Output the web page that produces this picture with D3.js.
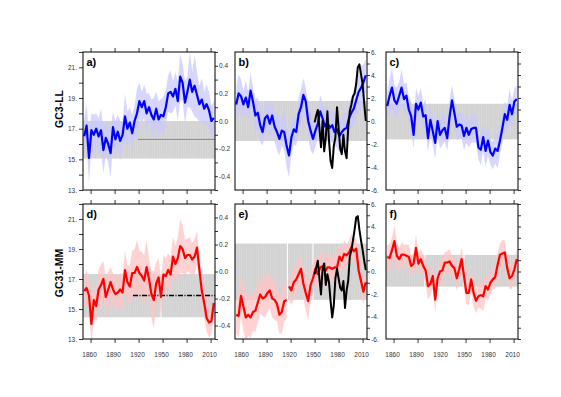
<!DOCTYPE html>
<html>
<head>
<meta charset="utf-8">
<script src="https://cdn.jsdelivr.net/npm/d3@7"></script>
<style>
body { margin: 0; background: #fff; }
text { font-family: "Liberation Sans", Arial, sans-serif; }
</style>
</head>
<body>
<div id="chart"></div>
<script>

// model series are read every 3 years, observations every 2 years
var years = d3.range(1852, 2015, 3)
var obsYears = d3.range(1950, 2015, 2)
var xTickYears = [1860, 1890, 1920, 1950, 1980, 2010]

var panelLabels = ["a)", "b)", "c)", "d)", "e)", "f)"]
var rowTitles = ["GC3-LL", "GC31-MM"]

var meanA = [16.5,17.2,15.1,16.9,16.6,17.0,16.5,16.9,15.6,16.4,
  16.0,15.4,17.1,16.3,16.8,16.2,16.6,17.8,17.0,17.4,
  16.7,17.5,18.0,18.8,18.4,18.8,18.0,18.4,17.9,17.6,
  18.3,17.6,17.9,17.8,18.4,19.3,19.4,19.1,19.6,18.8,
  20.4,20.0,18.7,19.4,20.2,19.4,19.8,19.2,18.6,18.9,
  18.3,18.6,18.2,17.5,17.7]
var meanB = [0.12,0.20,0.18,0.12,0.17,0.10,0.22,0.14,0.04,0.06,
  -0.03,-0.08,0.02,0.04,-0.02,0.04,-0.04,-0.08,-0.13,-0.07,
  -0.08,-0.18,-0.25,-0.12,-0.06,-0.08,0.05,0.10,0.19,0.14,
  0.00,-0.07,-0.13,-0.07,-0.02,0.07,0.02,-0.04,-0.01,-0.05,
  -0.03,-0.08,-0.06,-0.11,-0.08,-0.06,-0.05,0.02,0.06,0.09,
  0.15,0.21,0.24,0.28,0.33]
var meanC = [1.3,2.2,2.9,1.8,1.5,2.2,2.9,1.9,2.2,1.0,
  0.4,-1.2,1.5,1.0,1.6,0.4,0.5,-1.5,0.1,-0.9,
  -1.9,0.0,-1.2,-0.8,-0.6,-1.5,0.4,1.8,0.7,-0.5,
  -0.3,-0.4,-1.3,-0.6,-1.2,-0.7,-0.6,-0.6,-2.3,-2.5,
  -1.4,-2.6,-1.7,-2.7,-3.0,-2.4,-2.6,-1.7,-0.6,0.6,
  0.1,1.4,0.6,1.7,1.9]
var meanD = [16.2,16.4,15.9,14.0,15.6,15.2,16.3,16.6,17.0,15.8,
  16.3,16.8,16.3,16.0,16.1,16.3,16.1,17.6,16.8,16.5,
  17.4,17.4,17.8,17.4,17.2,16.9,17.8,17.0,16.0,15.6,
  16.7,17.1,15.8,17.3,17.2,17.6,17.3,18.5,18.0,18.4,
  19.2,19.0,18.4,18.6,18.6,18.3,18.5,19.1,17.6,16.2,
  15.4,14.4,14.1,14.2,15.4]
var meanE = [-0.32,-0.33,-0.18,-0.26,-0.34,-0.32,-0.34,-0.30,-0.29,-0.23,
  -0.17,-0.20,-0.19,-0.16,-0.14,-0.20,-0.21,-0.24,-0.32,-0.30,
  -0.22,-0.21,-0.11,-0.14,-0.08,-0.06,-0.02,0.02,-0.09,-0.16,
  -0.22,-0.10,-0.05,0.02,-0.02,0.03,0.04,0.00,0.03,0.03,
  0.02,0.03,0.03,0.11,0.08,0.13,0.12,0.14,0.18,0.15,
  0.17,0.01,-0.07,-0.15,-0.08]
var meanF = [1.3,1.2,1.9,2.7,1.4,1.1,1.5,1.5,1.4,1.3,
  0.5,0.7,2.1,0.7,1.1,0.5,0.1,-1.3,-1.1,-0.4,
  -2.5,-0.6,0.0,0.1,0.8,0.8,0.9,0.5,0.3,-0.6,
  0.2,1.1,-0.4,-1.9,-1.9,-0.7,-1.9,-2.6,-2.2,-2.1,
  -2.2,-1.3,-1.6,-1.0,-0.7,-0.5,0.6,1.5,1.6,1.7,
  0.3,-0.6,-0.4,0.2,1.1]

// half width of the light ensemble envelope
var spreadA = [1.2,1.4,1.6,1.1,1.3,1.0,1.2,1.4,1.5,1.1,
  1.2,1.6,1.0,1.2,1.1,1.3,0.9,1.5,1.1,1.0,
  1.2,1.0,1.6,1.2,1.0,1.1,1.3,0.9,1.0,1.4,
  1.1,1.2,1.0,1.3,1.1,1.2,1.4,1.0,1.1,1.3,
  1.5,1.2,1.4,1.0,1.8,1.3,2.0,1.5,1.2,1.4,
  1.1,1.3,1.2,1.0,1.1]
var spreadB = [0.12,0.14,0.12,0.10,0.12,0.11,0.13,0.10,0.12,0.11,
  0.12,0.10,0.11,0.10,0.12,0.10,0.11,0.13,0.12,0.11,
  0.14,0.15,0.16,0.12,0.11,0.10,0.12,0.13,0.12,0.10,
  0.12,0.14,0.11,0.12,0.10,0.12,0.11,0.13,0.12,0.10,
  0.12,0.11,0.13,0.12,0.11,0.12,0.10,0.12,0.11,0.13,
  0.12,0.14,0.16,0.13,0.12]
var spreadC = [1.2,1.5,1.8,1.3,1.4,1.2,1.6,1.3,1.2,1.1,
  1.3,1.2,1.4,1.2,1.3,1.1,1.4,1.2,1.3,1.2,
  1.4,1.1,1.2,1.3,1.2,1.1,1.4,1.3,1.2,1.1,
  1.2,1.1,1.2,1.3,1.1,1.2,1.3,1.2,1.1,1.3,
  1.2,1.4,1.3,1.1,1.2,1.3,1.5,1.2,1.3,1.1,
  1.2,1.4,1.2,1.1,1.2]
var spreadD = [1.0,1.2,1.1,1.3,1.2,1.1,1.3,1.4,1.2,1.1,
  1.2,1.0,1.1,1.2,1.0,1.1,1.2,1.3,1.1,1.4,
  1.5,1.6,1.8,1.5,1.6,1.7,1.8,1.4,1.6,1.9,
  1.4,1.3,1.2,1.3,1.2,1.1,1.2,1.3,1.2,1.4,
  1.8,1.6,1.2,1.1,1.2,1.1,1.2,1.1,1.0,1.1,
  1.0,0.9,1.0,0.9,1.0]
var spreadE = [0.14,0.16,0.15,0.18,0.17,0.16,0.15,0.14,0.16,0.15,
  0.14,0.13,0.15,0.14,0.13,0.14,0.15,0.13,0.14,0.16,
  0.15,0.14,0.10,0.11,0.12,0.11,0.10,0.12,0.11,0.13,
  0.14,0.12,0.11,0.10,0.11,0.10,0.11,0.10,0.11,0.10,
  0.09,0.10,0.11,0.10,0.09,0.10,0.08,0.09,0.10,0.09,
  0.08,0.09,0.10,0.09,0.08]
var spreadF = [1.0,1.3,1.1,1.4,1.2,1.0,1.1,0.9,1.0,1.1,
  0.9,1.0,1.2,1.0,0.9,1.0,1.1,1.2,1.0,1.1,
  1.2,0.9,1.0,1.1,0.9,1.0,1.1,0.9,1.0,1.1,
  0.9,1.0,1.2,1.0,1.1,1.0,1.2,1.1,1.0,1.2,
  1.3,1.1,1.0,1.1,0.9,1.0,1.1,1.0,1.2,1.1,
  0.9,1.0,1.1,0.9,1.0]

// observations (black)
var obsB = [-0.01,0.04,0.08,-0.05,-0.19,0.00,-0.22,-0.12,0.07,-0.14,
  -0.29,-0.34,-0.18,-0.12,0.10,-0.05,-0.20,-0.24,-0.10,-0.22,
  -0.27,-0.05,0.07,0.12,0.18,0.20,0.27,0.39,0.41,0.34,
  0.27,0.13,0.00]
var obsE = [-0.02,0.03,0.08,-0.05,-0.17,0.02,0.06,-0.10,-0.02,-0.08,
  -0.22,-0.34,-0.25,-0.05,0.02,-0.05,-0.12,-0.14,-0.07,-0.27,
  -0.14,-0.07,0.11,0.16,0.23,0.31,0.40,0.41,0.31,0.23,
  0.16,0.08,0.01]

// grey bands, one value per panel a..f
var bandLow = [15.05, -0.145, -1.6, 14.45, -0.21, -1.35]
var bandHigh = [17.5, 0.145, 1.5, 17.33, 0.207, 1.47]
var bandGaps = [[], [], [], [1948], [1916, 1948], [1899, 1948]]
var refLevel = [16.3, null, null, 15.9, null, null]
var refStart = [1919, null, null, 1913, null, null]

var yDomains = [[13, 22], [-0.5, 0.5], [-6, 6], [13, 22], [-0.5, 0.5], [-6, 6]]

var svgWidth = 561, svgHeight = 397
var svg = d3.select("#chart").append("svg")
  .attr("width", svgWidth)
  .attr("height", svgHeight)

var colX = [83, 235, 386]
var panelW = 132
var rowY = [52, 204]
var rowH = [138, 135]

var defs = svg.append("defs")
var pat = defs.append("pattern")
  .attr("id", "greyStripes")
  .attr("patternUnits", "userSpaceOnUse")
  .attr("width", 2.4).attr("height", 10)
pat.append("rect").attr("width", 2.4).attr("height", 10).attr("fill", "#d2d2d2")
pat.append("rect").attr("x", 1.8).attr("width", 0.6).attr("height", 10).attr("fill", "#dcdcdc")

var panels = [
  { mean: meanA, spread: spreadA, obs: null, line: "#0000ff", light: "#c8c8ff", breaks: [] },
  { mean: meanB, spread: spreadB, obs: obsB, line: "#0000ff", light: "#c8c8ff", breaks: [] },
  { mean: meanC, spread: spreadC, obs: null, line: "#0000ff", light: "#c8c8ff", breaks: [] },
  { mean: meanD, spread: spreadD, obs: null, line: "#ff0000", light: "#ffc4c4", breaks: [] },
  { mean: meanE, spread: spreadE, obs: obsE, line: "#ff0000", light: "#ffc4c4", breaks: [1916.5] },
  { mean: meanF, spread: spreadF, obs: null, line: "#ff0000", light: "#ffc4c4", breaks: [] }
]

function styleAxis(g) {
  g.select(".domain").remove()
  g.attr("font-family", "Liberation Sans, Arial, sans-serif").attr("font-size", 6.5)
  g.selectAll("line").attr("stroke", "#000").attr("stroke-width", 0.8)
  g.selectAll("text").attr("fill", "#333")
}

function signed(v, digits) {
  return (v < 0 ? "-" : "") + Math.abs(v).toFixed(digits)
}

panels.forEach(function(p, i) {
  var row = Math.floor(i / 3), col = i % 3
  var h = rowH[row]

  var x = d3.scaleLinear().domain([1850.5, 2015.5]).range([0, panelW])
  var y = d3.scaleLinear().domain(yDomains[i]).range([h, 0])

  var g = svg.append("g").attr("transform", `translate(${colX[col]},${rowY[row]})`)

  defs.append("clipPath").attr("id", "clip" + i)
    .append("rect").attr("width", panelW).attr("height", h)

  var plot = g.append("g").attr("clip-path", `url(#clip${i})`)

  // grey band split at the gap years
  var edges = [1850.5]
  bandGaps[i].forEach(function(gy) { edges.push(gy - 0.7, gy + 0.7) })
  edges.push(2015.5)
  for (var k = 0; k < edges.length; k += 2) {
    plot.append("rect")
      .attr("x", x(edges[k]))
      .attr("width", x(edges[k + 1]) - x(edges[k]))
      .attr("y", y(bandHigh[i]))
      .attr("height", y(bandLow[i]) - y(bandHigh[i]))
      .attr("fill", "url(#greyStripes)")
  }

  var series = years.map(function(yr, j) {
    return { year: yr, v: p.mean[j], s: p.spread[j] }
  })

  // split into segments where the model series has breaks
  var segments = [series]
  p.breaks.forEach(function(b) {
    var last = segments.pop()
    segments.push(last.filter(d => d.year < b), last.filter(d => d.year > b))
  })

  var area = d3.area()
    .x(d => x(d.year))
    .y0(d => y(d.v - d.s))
    .y1(d => y(d.v + d.s))

  var line = d3.line()
    .x(d => x(d.year))
    .y(d => y(d.v))

  segments.forEach(function(seg) {
    plot.append("path")
      .datum(seg)
      .attr("d", area)
      .attr("fill", p.light)
      .attr("fill-opacity", 0.75)
  })

  if (refLevel[i] != null) {
    plot.append("line")
      .attr("x1", x(refStart[i])).attr("x2", x(2015.5))
      .attr("y1", y(refLevel[i])).attr("y2", y(refLevel[i]))
      .attr("stroke", i < 3 ? "#888" : "#000")
      .attr("stroke-width", i < 3 ? 1 : 1.4)
      .attr("stroke-dasharray", i < 3 ? null : "5,1.5,1,1.5")
  }

  segments.forEach(function(seg) {
    plot.append("path")
      .datum(seg)
      .attr("d", line)
      .attr("fill", "none")
      .attr("stroke", p.line)
      .attr("stroke-width", 2.2)
      .attr("stroke-linejoin", "round")
  })

  if (p.obs) {
    var obsData = obsYears.map((yr, j) => ({ year: yr, v: p.obs[j] }))
    plot.append("path")
      .datum(obsData)
      .attr("d", line)
      .attr("fill", "none")
      .attr("stroke", "#000")
      .attr("stroke-width", 2)
      .attr("stroke-linejoin", "round")
  }

  // x ticks, top and bottom
  g.append("g")
    .call(d3.axisTop(x).tickValues(xTickYears).tickSize(4).tickFormat(""))
    .call(styleAxis)

  var bottom = g.append("g")
    .attr("transform", `translate(0,${h})`)
    .call(d3.axisBottom(x).tickValues(xTickYears).tickSize(4).tickPadding(9)
      .tickFormat(d => row === 1 ? d : ""))
    .call(styleAxis)
  bottom.selectAll("text").attr("dx", -1.5)

  // left axis only on the first column
  if (col === 0) {
    g.append("g")
      .call(d3.axisLeft(y).tickValues(d3.range(13, 23)).tickSize(4).tickPadding(2)
        .tickFormat(d => d % 2 ? d + "." : ""))
      .call(styleAxis)
  }

  // right axis carries the scale of the next panel in the row
  var rightScale, rightTicks, rightFormat
  if (col === 0) {
    rightScale = d3.scaleLinear().domain(yDomains[i + 1]).range([h, 0])
    rightTicks = d3.range(-5, 6).map(d => d / 10)
    rightFormat = d => (Math.round(d * 10) % 2 === 0 && Math.abs(d) < 0.45) ? signed(d, 1) : ""
  } else if (col === 1) {
    rightScale = d3.scaleLinear().domain(yDomains[i + 1]).range([h, 0])
    rightTicks = d3.range(-6, 7)
    rightFormat = d => d % 2 === 0 ? signed(d, 0) + "." : ""
  } else {
    rightScale = y
    rightTicks = d3.range(-6, 7)
    rightFormat = d => ""
  }
  g.append("g")
    .attr("transform", `translate(${panelW},0)`)
    .call(d3.axisRight(rightScale).tickValues(rightTicks).tickSize(3).tickPadding(1)
      .tickFormat(rightFormat))
    .call(styleAxis)

  g.append("rect")
    .attr("width", panelW).attr("height", h)
    .attr("fill", "none")
    .attr("stroke", "#000")
    .attr("stroke-width", 1)

  g.append("text")
    .attr("x", 3.5).attr("y", 14)
    .attr("font-size", "11px")
    .attr("font-weight", "bold")
    .text(panelLabels[i])
})

// row titles
svg.append("text")
  .attr("transform", "translate(63,109) rotate(-90)")
  .attr("text-anchor", "middle")
  .attr("font-size", "10.5px")
  .attr("font-weight", "bold")
  .text(rowTitles[0])

svg.append("text")
  .attr("transform", "translate(63,273) rotate(-90)")
  .attr("text-anchor", "middle")
  .attr("font-size", "10.5px")
  .attr("font-weight", "bold")
  .text(rowTitles[1])

</script>
</body>
</html>
